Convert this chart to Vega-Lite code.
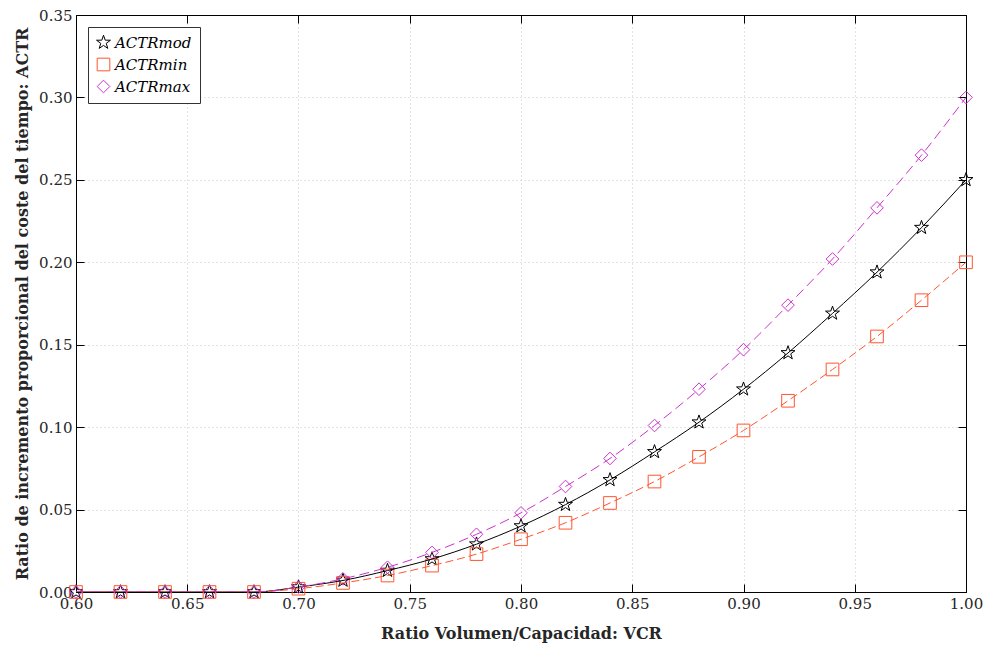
{
  "$schema": "https://vega.github.io/schema/vega-lite/v6.json",
  "width": 890,
  "height": 577,
  "autosize": {"type": "none"},
  "padding": {"left": 76, "top": 15, "right": 17, "bottom": 57},
  "background": "white",
  "config": {
    "font": "DejaVu Serif",
    "view": {"stroke": "black", "strokeWidth": 1},
    "axis": {
      "labelFont": "DejaVu Serif",
      "labelFontSize": 15,
      "labelColor": "#262626",
      "labelFlush": false,
      "titleFont": "DejaVu Serif",
      "titleFontSize": 16,
      "titleFontWeight": "bold",
      "titleColor": "#262626",
      "domainColor": "black",
      "tickColor": "black",
      "gridColor": "#c8c8c8",
      "gridDash": [1, 3],
      "gridWidth": 1
    }
  },
  "data": {
    "values": [
      {"VCR": 0.60, "serie": "ACTRmod", "ACTR": 0},
      {"VCR": 0.62, "serie": "ACTRmod", "ACTR": 0},
      {"VCR": 0.64, "serie": "ACTRmod", "ACTR": 0},
      {"VCR": 0.66, "serie": "ACTRmod", "ACTR": 0},
      {"VCR": 0.68, "serie": "ACTRmod", "ACTR": 0},
      {"VCR": 0.70, "serie": "ACTRmod", "ACTR": 0.003},
      {"VCR": 0.72, "serie": "ACTRmod", "ACTR": 0.007},
      {"VCR": 0.74, "serie": "ACTRmod", "ACTR": 0.013},
      {"VCR": 0.76, "serie": "ACTRmod", "ACTR": 0.020},
      {"VCR": 0.78, "serie": "ACTRmod", "ACTR": 0.029},
      {"VCR": 0.80, "serie": "ACTRmod", "ACTR": 0.040},
      {"VCR": 0.82, "serie": "ACTRmod", "ACTR": 0.053},
      {"VCR": 0.84, "serie": "ACTRmod", "ACTR": 0.068},
      {"VCR": 0.86, "serie": "ACTRmod", "ACTR": 0.085},
      {"VCR": 0.88, "serie": "ACTRmod", "ACTR": 0.103},
      {"VCR": 0.90, "serie": "ACTRmod", "ACTR": 0.123},
      {"VCR": 0.92, "serie": "ACTRmod", "ACTR": 0.145},
      {"VCR": 0.94, "serie": "ACTRmod", "ACTR": 0.169},
      {"VCR": 0.96, "serie": "ACTRmod", "ACTR": 0.194},
      {"VCR": 0.98, "serie": "ACTRmod", "ACTR": 0.221},
      {"VCR": 1.00, "serie": "ACTRmod", "ACTR": 0.250},
      {"VCR": 0.60, "serie": "ACTRmin", "ACTR": 0},
      {"VCR": 0.62, "serie": "ACTRmin", "ACTR": 0},
      {"VCR": 0.64, "serie": "ACTRmin", "ACTR": 0},
      {"VCR": 0.66, "serie": "ACTRmin", "ACTR": 0},
      {"VCR": 0.68, "serie": "ACTRmin", "ACTR": 0},
      {"VCR": 0.70, "serie": "ACTRmin", "ACTR": 0.002},
      {"VCR": 0.72, "serie": "ACTRmin", "ACTR": 0.0055},
      {"VCR": 0.74, "serie": "ACTRmin", "ACTR": 0.010},
      {"VCR": 0.76, "serie": "ACTRmin", "ACTR": 0.016},
      {"VCR": 0.78, "serie": "ACTRmin", "ACTR": 0.023},
      {"VCR": 0.80, "serie": "ACTRmin", "ACTR": 0.032},
      {"VCR": 0.82, "serie": "ACTRmin", "ACTR": 0.042},
      {"VCR": 0.84, "serie": "ACTRmin", "ACTR": 0.054},
      {"VCR": 0.86, "serie": "ACTRmin", "ACTR": 0.067},
      {"VCR": 0.88, "serie": "ACTRmin", "ACTR": 0.082},
      {"VCR": 0.90, "serie": "ACTRmin", "ACTR": 0.098},
      {"VCR": 0.92, "serie": "ACTRmin", "ACTR": 0.116},
      {"VCR": 0.94, "serie": "ACTRmin", "ACTR": 0.135},
      {"VCR": 0.96, "serie": "ACTRmin", "ACTR": 0.155},
      {"VCR": 0.98, "serie": "ACTRmin", "ACTR": 0.177},
      {"VCR": 1.00, "serie": "ACTRmin", "ACTR": 0.200},
      {"VCR": 0.60, "serie": "ACTRmax", "ACTR": 0},
      {"VCR": 0.62, "serie": "ACTRmax", "ACTR": 0},
      {"VCR": 0.64, "serie": "ACTRmax", "ACTR": 0},
      {"VCR": 0.66, "serie": "ACTRmax", "ACTR": 0},
      {"VCR": 0.68, "serie": "ACTRmax", "ACTR": 0},
      {"VCR": 0.70, "serie": "ACTRmax", "ACTR": 0.003},
      {"VCR": 0.72, "serie": "ACTRmax", "ACTR": 0.008},
      {"VCR": 0.74, "serie": "ACTRmax", "ACTR": 0.015},
      {"VCR": 0.76, "serie": "ACTRmax", "ACTR": 0.024},
      {"VCR": 0.78, "serie": "ACTRmax", "ACTR": 0.035},
      {"VCR": 0.80, "serie": "ACTRmax", "ACTR": 0.048},
      {"VCR": 0.82, "serie": "ACTRmax", "ACTR": 0.064},
      {"VCR": 0.84, "serie": "ACTRmax", "ACTR": 0.081},
      {"VCR": 0.86, "serie": "ACTRmax", "ACTR": 0.101},
      {"VCR": 0.88, "serie": "ACTRmax", "ACTR": 0.123},
      {"VCR": 0.90, "serie": "ACTRmax", "ACTR": 0.147},
      {"VCR": 0.92, "serie": "ACTRmax", "ACTR": 0.174},
      {"VCR": 0.94, "serie": "ACTRmax", "ACTR": 0.202},
      {"VCR": 0.96, "serie": "ACTRmax", "ACTR": 0.233},
      {"VCR": 0.98, "serie": "ACTRmax", "ACTR": 0.265},
      {"VCR": 1.00, "serie": "ACTRmax", "ACTR": 0.300}
    ]
  },
  "resolve": {"axis": {"x": "independent", "y": "independent"}},
  "layer": [
    {
      "mark": {"type": "point", "filled": false, "strokeWidth": 1, "size": 160, "opacity": 1},
      "encoding": {
        "x": {
          "field": "VCR", "type": "quantitative",
          "scale": {"domain": [0.6, 1.0], "nice": false, "zero": false},
          "axis": {
            "title": "Ratio Volumen/Capacidad: VCR",
            "values": [0.6, 0.65, 0.7, 0.75, 0.8, 0.85, 0.9, 0.95, 1.0],
            "format": ".2f",
            "tickSize": -8,
            "labelPadding": 12,
            "titlePadding": 14,
            "grid": true
          }
        },
        "y": {
          "field": "ACTR", "type": "quantitative",
          "scale": {"domain": [0, 0.35], "nice": false},
          "axis": {
            "title": "Ratio de incremento proporcional del coste del tiempo: ACTR",
            "values": [0, 0.05, 0.1, 0.15, 0.2, 0.25, 0.3, 0.35],
            "format": ".2f",
            "tickSize": -8,
            "labelPadding": 12,
            "titlePadding": 8,
            "grid": true
          }
        },
        "color": {
          "field": "serie", "type": "nominal",
          "scale": {"domain": ["ACTRmod", "ACTRmin", "ACTRmax"], "range": ["#000000", "#ff5530", "#cc33cc"]},
          "legend": {
            "title": null,
            "orient": "top-left",
            "offset": 12,
            "strokeColor": "#333333",
            "fillColor": "white",
            "padding": 8,
            "labelFont": "DejaVu Serif",
            "labelFontStyle": "italic",
            "labelFontSize": 15,
            "labelColor": "black",
            "symbolStrokeWidth": 1,
            "symbolSize": 160,
            "rowPadding": 5
          }
        },
        "shape": {
          "field": "serie", "type": "nominal",
          "scale": {
            "domain": ["ACTRmod", "ACTRmin", "ACTRmax"],
            "range": [
              "M0,-1.15L0.27,-0.37L1.1,-0.36L0.43,0.14L0.68,0.93L0,0.46L-0.68,0.93L-0.43,0.14L-1.1,-0.36L-0.27,-0.37Z",
              "square",
              "diamond"
            ]
          }
        }
      }
    },
    {
      "transform": [{"filter": "datum.serie === 'ACTRmod'"}],
      "mark": {"type": "line", "interpolate": "monotone", "strokeWidth": 1, "clip": true},
      "encoding": {
        "x": {"field": "VCR", "type": "quantitative", "axis": null},
        "y": {"field": "ACTR", "type": "quantitative", "axis": null},
        "color": {"field": "serie", "type": "nominal"}
      }
    },
    {
      "transform": [{"filter": "datum.serie === 'ACTRmin'"}],
      "mark": {"type": "line", "interpolate": "monotone", "strokeWidth": 1, "strokeDash": [8, 4], "clip": true},
      "encoding": {
        "x": {"field": "VCR", "type": "quantitative", "axis": null},
        "y": {"field": "ACTR", "type": "quantitative", "axis": null},
        "color": {"field": "serie", "type": "nominal"}
      }
    },
    {
      "transform": [{"filter": "datum.serie === 'ACTRmax'"}],
      "mark": {"type": "line", "interpolate": "monotone", "strokeWidth": 1, "strokeDash": [10, 5], "clip": true},
      "encoding": {
        "x": {"field": "VCR", "type": "quantitative", "axis": null},
        "y": {"field": "ACTR", "type": "quantitative", "axis": null},
        "color": {"field": "serie", "type": "nominal"}
      }
    },
    {
      "mark": {"type": "point", "opacity": 0},
      "encoding": {
        "x": {
          "field": "VCR", "type": "quantitative",
          "axis": {"orient": "top", "title": null, "labels": false, "grid": false, "tickSize": -8,
                   "values": [0.6, 0.65, 0.7, 0.75, 0.8, 0.85, 0.9, 0.95, 1.0]}
        },
        "y": {
          "field": "ACTR", "type": "quantitative",
          "axis": {"orient": "right", "title": null, "labels": false, "grid": false, "tickSize": -8,
                   "values": [0, 0.05, 0.1, 0.15, 0.2, 0.25, 0.3, 0.35]}
        }
      }
    }
  ]
}
